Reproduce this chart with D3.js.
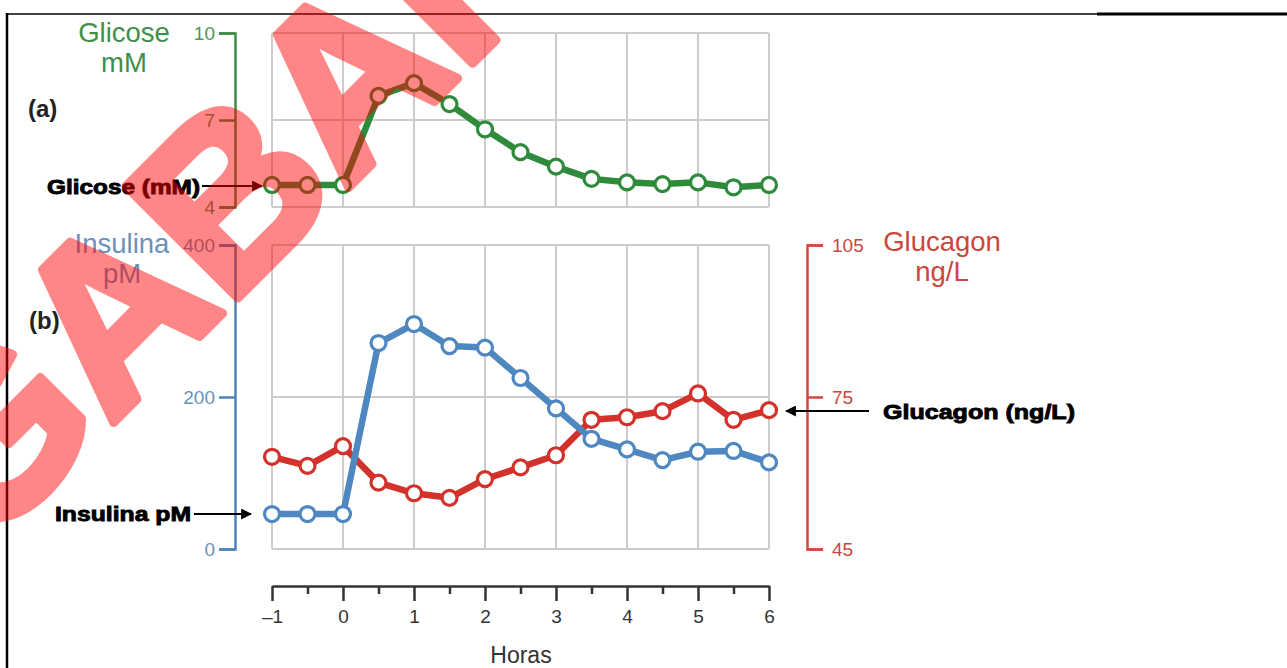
<!DOCTYPE html>
<html>
<head>
<meta charset="utf-8">
<script src="https://cdn.jsdelivr.net/npm/d3@7"></script>
<style>
  body { margin: 0; background: #fff; }
  text { font-family: "Liberation Sans", Arial, sans-serif; }
</style>
</head>
<body>
<div id="canvas"></div>
<script>
var width = 1287,
    height = 668;

// horas
var hours = [-1, -0.5, 0, 0.5, 1, 1.5, 2, 2.5, 3, 3.5, 4, 4.5, 5, 5.5, 6];
var glicose = [4.76, 4.76, 4.76, 7.83, 8.27, 7.55, 6.68, 5.89, 5.39, 4.97, 4.85, 4.79, 4.85, 4.68, 4.76];
var insulina = [46, 46, 46, 271, 296, 267, 265, 225, 185, 145, 131, 117, 128, 129, 114];
var glucagon = [63.2, 61.4, 65.3, 58.1, 56.0, 55.1, 58.8, 61.1, 63.5, 70.5, 71.0, 72.2, 75.7, 70.5, 72.4];

var hourTicks = [-1, 0, 1, 2, 3, 4, 5, 6];
var halfTicks = [-0.5, 0.5, 1.5, 2.5, 3.5, 4.5, 5.5];
var glicoseTicks = [4, 7, 10];
var insulinaTicks = [0, 200, 400];
var glucagonTicks = [45, 75, 105];

var green = "#2f8a3c", blue = "#4f87c0", red = "#d3322c", grid = "#d0cbcb";

var svg = d3.select("#canvas").append("svg")
    .attr("width", width)
    .attr("height", height);

svg.append("rect").attr("width", width).attr("height", height).attr("fill", "#fff");

// frame
svg.append("line").attr("x1", 6).attr("x2", 1097).attr("y1", 14).attr("y2", 14)
    .attr("stroke", "#000").attr("stroke-width", 1.5);
svg.append("line").attr("x1", 1097).attr("x2", width).attr("y1", 14).attr("y2", 14)
    .attr("stroke", "#000").attr("stroke-width", 3);
svg.append("line").attr("x1", 7).attr("x2", 7).attr("y1", 13).attr("y2", height)
    .attr("stroke", "#000").attr("stroke-width", 2.5);

var x = d3.scaleLinear().domain([-1, 6]).range([272, 769]);
var yGli = d3.scaleLinear().domain([4, 10]).range([207, 33]);
var yIns = d3.scaleLinear().domain([0, 400]).range([549, 245]);
var yGlu = d3.scaleLinear().domain([45, 105]).range([549, 245]);

function drawGrid(yScale, yTicks) {
  var g = svg.append("g");
  g.selectAll(".v").data(hourTicks).enter().append("line")
      .attr("x1", function(d){ return x(d); })
      .attr("x2", function(d){ return x(d); })
      .attr("y1", yScale.range()[0]).attr("y2", yScale.range()[1])
      .attr("stroke", grid).attr("stroke-width", 2);
  g.selectAll(".h").data(yTicks).enter().append("line")
      .attr("x1", x(-1)).attr("x2", x(6))
      .attr("y1", function(d){ return yScale(d); })
      .attr("y2", function(d){ return yScale(d); })
      .attr("stroke", grid).attr("stroke-width", 2);
}
drawGrid(yGli, glicoseTicks);
drawGrid(yIns, insulinaTicks);

function styleAxis(g, color, labelColor) {
  g.select(".domain").attr("stroke", color).attr("stroke-width", 2.5);
  g.selectAll(".tick line").attr("stroke", color).attr("stroke-width", 2.5);
  g.selectAll(".tick text").attr("fill", labelColor)
      .style("font-size", "19px").style("font-family", "Liberation Sans, Arial, sans-serif");
}

var axGli = svg.append("g").attr("transform", "translate(235,0)")
    .call(d3.axisLeft(yGli).tickValues(glicoseTicks).tickFormat(d3.format("d"))
      .tickSize(16).tickSizeOuter(16).tickPadding(4));
styleAxis(axGli, "#3f8a47", "#4f9558");

var axIns = svg.append("g").attr("transform", "translate(235,0)")
    .call(d3.axisLeft(yIns).tickValues(insulinaTicks).tickFormat(d3.format("d"))
      .tickSize(16).tickSizeOuter(16).tickPadding(4));
styleAxis(axIns, "#4f84bb", "#6a92bd");

var axGlu = svg.append("g").attr("transform", "translate(807,0)")
    .call(d3.axisRight(yGlu).tickValues(glucagonTicks).tickFormat(d3.format("d"))
      .tickSize(16).tickSizeOuter(16).tickPadding(9));
styleAxis(axGlu, "#cd4a40", "#c9473d");

// x axis
var axX = svg.append("g").attr("transform", "translate(0,586)")
    .call(d3.axisBottom(x).tickValues(hourTicks).tickSize(15).tickSizeOuter(0).tickPadding(9)
      .tickFormat(function(d){ return d < 0 ? "\u2013" + (-d) : d; }));
axX.select(".domain").attr("stroke", "#333").attr("stroke-width", 2.5);
axX.selectAll(".tick line").attr("stroke", "#333").attr("stroke-width", 2.5);
axX.selectAll(".tick text").attr("fill", "#333").style("font-size", "19px");
var axX2 = svg.append("g").attr("transform", "translate(0,586)")
    .call(d3.axisBottom(x).tickValues(halfTicks).tickSize(8).tickFormat(""));
axX2.select(".domain").remove();
axX2.selectAll(".tick line").attr("stroke", "#333").attr("stroke-width", 2.5);

svg.append("text").attr("x", 521).attr("y", 663).attr("text-anchor", "middle")
    .attr("fill", "#333").style("font-size", "23px").text("Horas");

// axis titles
function title(lines, cx, y0, color, size) {
  var t = svg.append("text").attr("text-anchor", "middle").attr("fill", color)
      .style("font-size", size + "px");
  lines.forEach(function(s, i) {
    t.append("tspan").attr("x", cx).attr("y", y0 + i * 30).text(s);
  });
}
title(["Glicose", "mM"], 124, 42, "#3f8f4a", 27.5);
title(["Insulina", "pM"], 122, 253, "#6a92bd", 27.5);
title(["Glucagon", "ng/L"], 942, 251, "#cc463c", 27.5);

// series
function series(vals, yScale, color) {
  var pts = hours.map(function(h, i){ return [x(h), yScale(vals[i])]; });
  svg.append("path")
      .attr("d", d3.line()(pts))
      .attr("fill", "none").attr("stroke", color)
      .attr("stroke-width", 6.5).attr("stroke-linejoin", "round");
  svg.append("g").selectAll("circle").data(pts).enter().append("circle")
      .attr("cx", function(d){ return d[0]; })
      .attr("cy", function(d){ return d[1]; })
      .attr("r", 7.5)
      .attr("fill", "#fff").attr("stroke", color).attr("stroke-width", 3.2);
}
series(glicose, yGli, green);
series(glucagon, yGlu, red);
series(insulina, yIns, blue);

// panel labels
svg.append("text").attr("x", 28).attr("y", 117).attr("fill", "#222")
    .style("font-size", "24px").style("font-weight", "bold").text("(a)");
svg.append("text").attr("x", 29).attr("y", 329).attr("fill", "#222")
    .style("font-size", "24px").style("font-weight", "bold").text("(b)");

// annotations with arrows
svg.append("defs").append("marker")
    .attr("id", "arr").attr("viewBox", "0 0 10 10").attr("refX", 9).attr("refY", 5)
    .attr("markerWidth", 5).attr("markerHeight", 5).attr("orient", "auto")
  .append("path").attr("d", "M0,0 L10,5 L0,10 z").attr("fill", "#000");

function note(txt, tx, ty, len, x1, x2, ay) {
  svg.append("text").attr("x", tx).attr("y", ty).attr("fill", "#000")
      .attr("stroke", "#000").attr("stroke-width", 0.9)
      .attr("textLength", len).attr("lengthAdjust", "spacingAndGlyphs")
      .style("font-size", "21px").style("font-weight", "bold").text(txt);
  svg.append("line").attr("x1", x1).attr("x2", x2).attr("y1", ay).attr("y2", ay)
      .attr("stroke", "#000").attr("stroke-width", 2.2).attr("marker-end", "url(#arr)");
}
note("Glicose (mM)", 47, 194, 153, 202, 262, 186);
note("Insulina pM", 55, 521, 136, 194, 251, 514);
note("Glucagon (ng/L)", 883, 419, 192, 869, 786, 411);

// marca d'agua
svg.append("g").attr("opacity", 0.47)
  .append("text")
    .attr("transform", "translate(-17,553) rotate(-45)")
    .attr("fill", "#ff0000").attr("stroke", "#ff0000")
    .attr("stroke-width", 9).attr("stroke-linejoin", "round")
    .style("font-size", "230px").style("font-weight", "bold")
    .text("GABARITO");
</script>
</body>
</html>
